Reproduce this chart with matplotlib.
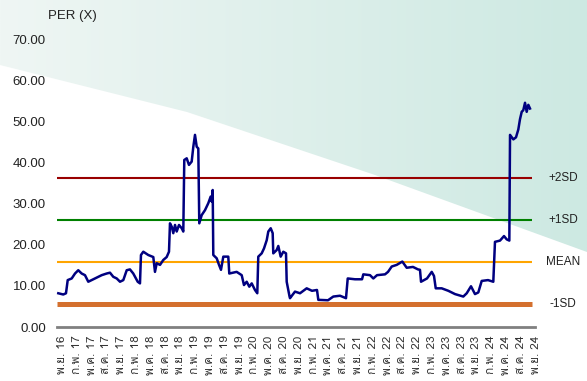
import matplotlib
matplotlib.use('Agg')
import matplotlib.pyplot as plt
import numpy as np
from matplotlib import font_manager
from matplotlib.ft2font import FT2Font
from matplotlib.colors import to_rgb
from matplotlib.patches import Polygon

# PER series, x = months since Nov 2016, y = PER (X)
month_idx = [-0.75, 0.26, 0.81, 1.16, 1.97, 2.64, 3.30, 3.99, 4.66, 5.33, 6.02, 6.69,
             7.36, 8.05, 9.06, 9.73, 10.40, 11.09, 11.76, 12.43, 13.12, 13.78, 14.45,
             15.35, 15.81, 16.01, 16.48, 17.49, 18.51, 18.85, 19.20, 19.87, 20.54,
             21.22, 21.69, 21.89, 22.24, 22.56, 22.91, 23.25, 23.72, 24.27, 24.59,
             24.79, 25.28, 25.74, 26.29, 26.62, 26.96, 27.31, 27.63, 27.83, 28.32,
             28.99, 29.66, 30.14, 30.35, 30.55, 30.67, 31.36, 31.83, 32.23, 32.70,
             33.71, 33.91, 35.41, 36.43, 36.89, 37.44, 37.97, 38.46, 39.12, 39.59,
             39.79, 40.48, 40.95, 41.50, 41.82, 42.31, 42.71, 42.83, 43.52, 43.85,
             44.33, 44.86, 45.41, 45.55, 46.13, 46.22, 47.23, 48.25, 49.60, 50.68,
             51.69, 51.96, 53.92, 55.00, 56.36, 57.57, 57.92, 59.40, 60.82, 61.08,
             62.44, 63.11, 63.86, 65.48, 66.09, 66.84, 67.85, 68.99, 69.88, 71.15,
             72.17, 72.57, 72.78, 73.99, 74.95, 75.41, 75.76, 76.97, 78.31, 79.67,
             81.35, 82.04, 82.91, 83.72, 84.39, 85.08, 86.36, 87.43, 87.77, 88.79,
             89.60, 90.15, 90.68, 90.82, 91.49, 92.03, 92.50, 92.84, 93.19, 93.51,
             93.86, 94.20, 94.53, 94.87]
per = [8.2, 7.9, 8.2, 11.4, 11.8, 13.0, 13.8, 13.0, 12.6, 11.0, 11.4, 11.8,
       12.2, 12.6, 13.0, 13.2, 12.2, 11.8, 11.0, 11.4, 13.8, 14.0, 13.0,
       11.0, 10.6, 17.5, 18.3, 17.5, 17.0, 13.4, 15.5, 15.1, 16.3,
       17.0, 18.3, 25.2, 24.4, 22.8, 24.8, 23.2, 24.8, 24.0, 23.2,
       40.6, 41.0, 39.4, 40.2, 43.8, 46.7, 43.8, 43.4, 25.2, 27.2,
       28.4, 30.1, 31.7, 30.5, 33.3, 17.5, 16.7, 15.1, 13.9, 17.1,
       17.1, 13.0, 13.4, 12.6, 10.2, 11.0, 9.8, 10.6, 9.0, 8.2,
       17.1, 17.9, 19.1, 21.1, 23.2, 24.0, 22.8, 17.9, 18.7, 19.7,
       17.1, 18.3, 17.9, 11.0, 7.4, 7.0, 8.6, 8.2, 9.4, 8.8,
       9.0, 6.6, 6.5, 7.4, 7.6, 7.0, 11.8, 11.6, 11.6, 12.8,
       12.6, 11.8, 12.6, 12.8, 13.4, 14.7, 15.1, 15.9, 14.4, 14.6,
       14.0, 13.9, 11.0, 11.8, 13.4, 12.4, 9.4, 9.4, 8.8, 8.0,
       7.4, 8.2, 9.9, 8.0, 8.4, 11.2, 11.4, 11.0, 20.7, 21.0,
       22.1, 21.3, 21.0, 46.7, 45.6, 46.1, 48.0, 50.5, 52.3, 52.7,
       54.5, 52.3, 54.0, 53.1]

# SD bands
band_names = ['+2SD', '+1SD', 'MEAN', '-1SD']
band_values = [36.1, 25.9, 15.7, 5.7]
band_colors = ['#990000', '#008000', '#FFA500', '#D4702E']
band_widths = [1.5, 1.5, 1.5, 3.6]

# x tick labels (every 3 months, Nov 2016 - Nov 2024)
tick_pos = list(range(0, 97, 3))
months_th = ['พ.ย.', 'ก.พ.', 'พ.ค.', 'ส.ค.']
tick_labels = []
for i, p in enumerate(tick_pos):
    yr = 16 + (p + 10) // 12
    tick_labels.append(f'{months_th[i % 4]} {yr}')


def find_thai_font():
    for f in font_manager.fontManager.ttflist:
        try:
            if 0x0E1E in FT2Font(f.fname).get_charmap():
                return f.name
        except Exception:
            pass
    return 'DejaVu Sans'


thai_font = find_thai_font()
plt.rcParams['font.family'] = ['Liberation Sans', 'DejaVu Sans']

W, H = 587, 381
fig = plt.figure(figsize=(W / 100, H / 100), dpi=100)
fig.patch.set_facecolor('white')

# background: mint gradient above a diagonal edge
bg = fig.add_axes([0, 0, 1, 1], zorder=-1)
bg.set_xlim(0, W)
bg.set_ylim(H, 0)
bg.axis('off')
c0, c1 = np.array(to_rgb('#eff6f4')), np.array(to_rgb('#cde9e2'))
t = np.linspace(0, 1, 256)[None, :, None]
grad = c0 * (1 - t) + c1 * t
im = bg.imshow(np.repeat(grad, 2, axis=0), extent=[0, W, H, 0], aspect='auto')
clip = Polygon([[0, 0], [W, 0], [W, 252], [375, 175], [187, 112], [0, 65]],
               transform=bg.transData, facecolor='none', edgecolor='none')
bg.add_patch(clip)
im.set_clip_path(clip)

ax = fig.add_axes([50 / W, 54 / H, 495 / W, 288 / H])
ax.patch.set_alpha(0)
ax.set_xlim(-2.43, 97.91)
ax.set_ylim(0, 70)

for name, val, col, lw in zip(band_names, band_values, band_colors, band_widths):
    ax.hlines(val, -1.0, 95.3, color=col, lw=lw, zorder=2)
    ax.text(101.6, val, name, ha='center', va='center', fontsize=8.5,
            color='#222222', clip_on=False)

ax.plot(month_idx, per, color='#000080', lw=1.8, zorder=3)

for s in ['top', 'right', 'left']:
    ax.spines[s].set_visible(False)
ax.spines['bottom'].set_bounds(-1.0, 95.9)
ax.spines['bottom'].set_color('#808080')
ax.spines['bottom'].set_linewidth(2)

ax.set_yticks(np.arange(0, 71, 10))
ax.set_yticklabels([f'{v:.2f}' for v in np.arange(0, 71, 10)])
ax.tick_params(axis='y', length=0, pad=3, labelsize=9.5, labelcolor='#222222')

ax.set_xticks(tick_pos)
ax.set_xticklabels(tick_labels, rotation=90, fontsize=8.5, color='#333333',
                   family=[thai_font, 'DejaVu Sans'])
ax.tick_params(axis='x', length=0, pad=6)

fig.text(48 / W, 1 - 16 / H, 'PER (X)', fontsize=9.5, color='#222222',
         ha='left', va='center')

fig.savefig('out.png', dpi=100)
